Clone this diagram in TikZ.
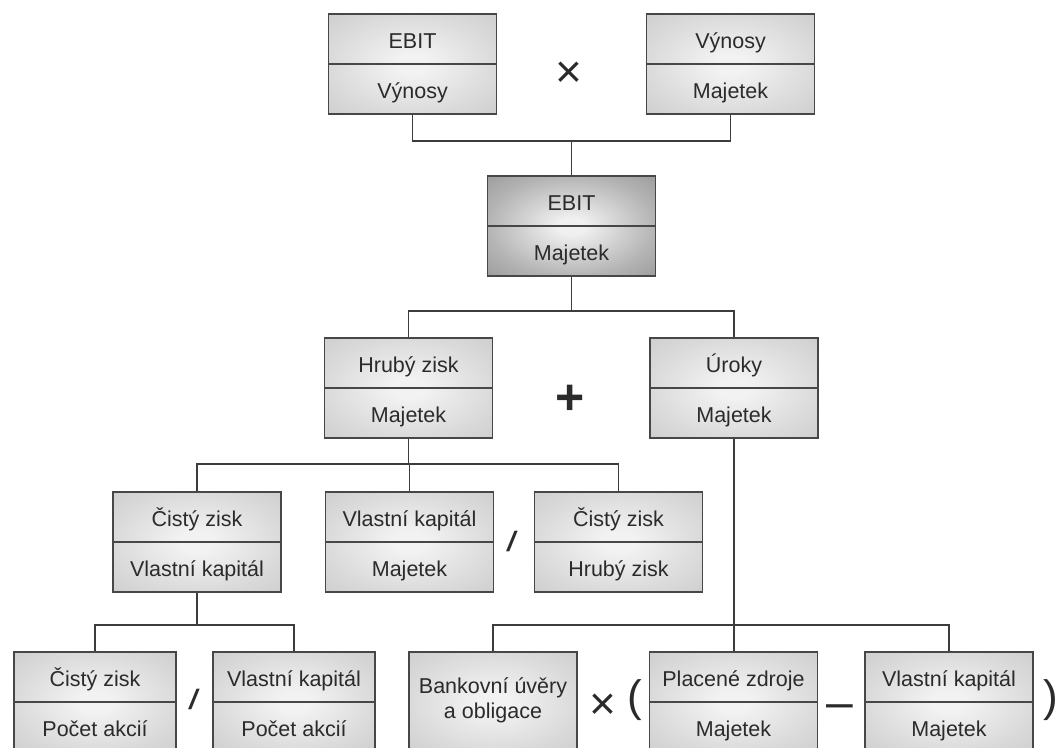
\documentclass[tikz,border=0pt]{standalone}
\usepackage{fontspec}
\setmainfont{Liberation Sans}
\usetikzlibrary{calc}
\definecolor{boxin}{HTML}{F2F2F2}
\definecolor{boxmid}{HTML}{DADADA}
\definecolor{boxout}{HTML}{CECECE}
\definecolor{cin}{HTML}{F0F0F0}
\definecolor{cmid}{HTML}{B4B4B4}
\definecolor{cout}{HTML}{9C9C9C}
\definecolor{edgecol}{HTML}{474747}
\definecolor{wire}{HTML}{3C3C3C}
\definecolor{inkcol}{HTML}{2B2B2B}
\pgfdeclareradialshading{boxsh}{\pgfpointorigin}{color(0bp)=(boxin); color(5bp)=(boxin); color(25bp)=(boxmid); color(36bp)=(boxout); color(50bp)=(boxout)}
\pgfdeclareradialshading{csh}{\pgfpointorigin}{color(0bp)=(cin); color(4bp)=(cin); color(25bp)=(cmid); color(36bp)=(cout); color(50bp)=(cout)}
\tikzset{
  box/.style={draw=edgecol, line width=1.3pt, shading=boxsh, minimum width=168pt, minimum height=100pt, inner sep=0pt},
  cbox/.style={box, shading=csh},
  divider/.style={draw=edgecol, line width=1.3pt},
  txt/.style={anchor=base, inner sep=0pt, text=inkcol, font=\fontsize{21.5}{24}\selectfont},
  wirestyle/.style={draw=wire, line width=1.2pt},
  op/.style={anchor=base, inner sep=0pt, text=inkcol}
}
\newcommand\tbox[6][box]{%
  \node[#1] (#2) at (#3,{#4+50}) {};
  \draw[divider] (#2.west) -- (#2.east);
  \node[txt] (#2t) at (#3,{#4+34.5}) {#5};
  \node[txt] (#2b) at (#3,{#4+84.5}) {#6};
}
\begin{document}
\begin{tikzpicture}[x=1pt,y=-1pt]
\useasboundingbox (0,0) rectangle (1062,747);
\clip (0,0) rectangle (1062,747);
% bus levels
\coordinate (bus0) at (0,141);
\coordinate (bus1) at (0,311);
\coordinate (bus2) at (0,464);
\coordinate (bus3) at (0,625);
% row 0
\tbox{A}{412.5}{14}{EBIT}{Výnosy}
\tbox{B}{730.5}{14}{Výnosy}{Majetek}
% row 1
\tbox[cbox]{C}{571.5}{176}{EBIT}{Majetek}
% row 2
\tbox{D}{408.5}{338}{Hrubý zisk}{Majetek}
\tbox{E}{734}{338}{Úroky}{Majetek}
% row 3
\tbox{F}{197}{492}{Čistý zisk}{Vlastní kapitál}
\tbox{G}{409.5}{492}{Vlastní kapitál}{Majetek}
\tbox{H}{618.5}{492}{Čistý zisk}{Hrubý zisk}
% row 4
\tbox[box, minimum width=162pt]{I}{95}{652}{Čistý zisk}{Počet akcií}
\tbox[box, minimum width=162pt]{J}{294}{652}{Vlastní kapitál}{Počet akcií}
\node[box] (K) at (493,702) {};
\node[txt] (Kt) at (493,693) {Bankovní úvěry};
\node[txt] (Kb) at (493,718) {a obligace};
\tbox{L}{733.5}{652}{Placené zdroje}{Majetek}
\tbox{M}{949}{652}{Vlastní kapitál}{Majetek}
% connectors
\draw[wirestyle] (A.south) -- (A.south |- bus0) -- (B.south |- bus0) -- (B.south);
\draw[wirestyle] (C.north) -- (C.north |- bus0);
\draw[wirestyle] (C.south) -- (C.south |- bus1);
\draw[wirestyle] (D.north) -- (D.north |- bus1) -- (E.north |- bus1) -- (E.north);
\draw[wirestyle] (D.south) -- (D.south |- bus2);
\draw[wirestyle] (F.north) -- (F.north |- bus2) -- (H.north |- bus2) -- (H.north);
\draw[wirestyle] (G.north) -- (G.north |- bus2);
\draw[wirestyle] (F.south) -- (F.south |- bus3);
\draw[wirestyle] (I.north) -- (I.north |- bus3) -- (J.north |- bus3) -- (J.north);
\draw[wirestyle] (E.south) -- (E.south |- L.north);
\draw[wirestyle] (K.north) -- (K.north |- bus3) -- (M.north |- bus3) -- (M.north);
% operators
\node[op, font=\fontsize{46}{50}\selectfont] (o1) at (569,87) {×};
\node[op, font=\bfseries\fontsize{50}{54}\selectfont] (o2) at (570,414) {+};
\node[op, font=\fontsize{28}{30}\selectfont] (o3) at (512,551) {\scalebox{1.5}[1]{/}};
\node[op, font=\fontsize{28}{30}\selectfont] (o4) at (194,709) {\scalebox{1.5}[1]{/}};
\node[op, font=\fontsize{46}{50}\selectfont] (o5) at (603,719.5) {×};
\node[op, font=\fontsize{44}{48}\selectfont] (o6) at (635,711.5) {(};
\node[op, font=\fontsize{48}{52}\selectfont] (o7) at (840,718.7) {–};
\node[op, font=\fontsize{44}{48}\selectfont] (o8) at (1051,711.5) {)};
\end{tikzpicture}
\end{document}
